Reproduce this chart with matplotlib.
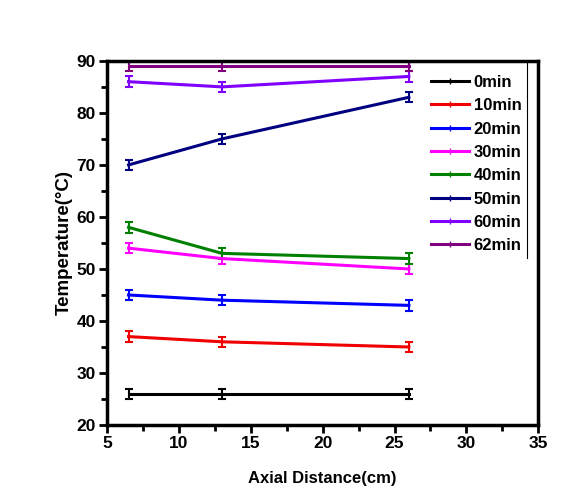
import numpy as np
import matplotlib
matplotlib.use("Agg")
import matplotlib.pyplot as plt
from matplotlib.lines import Line2D

plt.rcParams['font.family'] = ['Liberation Sans', 'DejaVu Sans']
plt.rcParams['font.weight'] = 'bold'

# axial positions (cm)
distance = [6.5, 13, 26]

labels = ["0min", "10min", "20min", "30min", "40min", "50min", "60min", "62min"]
t0 = [26, 26, 26]
t10 = [37, 36, 35]
t20 = [45, 44, 43]
t30 = [54, 52, 50]
t40 = [58, 53, 52]
t50 = [70, 75, 83]
t60 = [86, 85, 87]
t62 = [89, 89, 89]
err = [1, 1, 1]

series = [t0, t10, t20, t30, t40, t50, t60, t62]
colors = ["black", "#F00000", "#0000FF", "#FF00FF", "#008000", "#000080", "#8000FF", "#800080"]

fig = plt.figure(figsize=(5.66, 5.03), dpi=100)
ax = fig.add_axes([0.189, 0.155, 0.762, 0.724])

for vals, c, lab in zip(series, colors, labels):
    ax.errorbar(distance, vals, yerr=err, color=c, lw=2.2, capsize=3,
                elinewidth=1.5, capthick=1.5, label=lab)

ax.set_xlim(5, 35)
ax.set_ylim(20, 90)
ax.set_xticks(np.arange(5, 36, 5))
ax.set_yticks(np.arange(20, 91, 10))
ax.set_xticks(np.arange(7.5, 35, 5), minor=True)
ax.set_yticks(np.arange(25, 90, 10), minor=True)
ax.tick_params(which='major', direction='out', length=6, width=2, labelsize=12.5, pad=2)
ax.tick_params(which='minor', direction='out', length=4, width=2)
for s in ax.spines.values():
    s.set_linewidth(2.5)

ax.set_xlabel("Axial Distance(cm)", fontsize=12, fontweight='bold', labelpad=14)
ax.set_ylabel("Temperature(°C)", fontsize=13.5, fontweight='bold', labelpad=3)

handles = [Line2D([], [], color=c, lw=2.2, marker='|', markersize=4) for c in colors]
leg = ax.legend(handles, labels, loc='upper left', bbox_to_anchor=(0.74, 0.975),
                frameon=False, fontsize=12, handlelength=2.3, labelspacing=0.5,
                handletextpad=0.25, borderpad=0.3, borderaxespad=0)
for t in leg.get_texts():
    t.set_fontweight('bold')

# thin right edge of the legend box
fig.canvas.draw()
bb = leg.get_window_extent().transformed(ax.transAxes.inverted())
ax.plot([bb.x1, bb.x1], [bb.y0, 1.0], transform=ax.transAxes, color='black', lw=0.8, clip_on=False)

fig.savefig("out.png", dpi=100)
